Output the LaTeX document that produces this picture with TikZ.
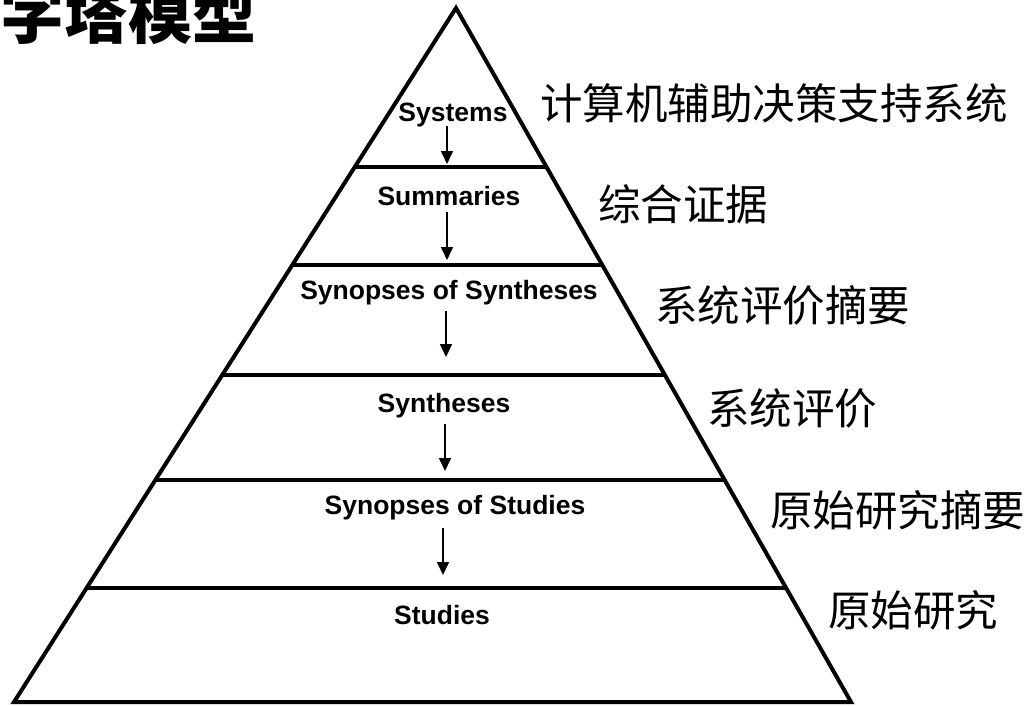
\documentclass[tikz,border=0pt]{standalone}
\usepackage{fontspec}
\setmainfont{Liberation Sans}
\newfontfamily\cjk{Noto Sans CJK SC}
\usetikzlibrary{arrows.meta,calc}
\tikzset{
  edge/.style={line width=4pt, line join=miter},
  layer/.style={line width=4pt},
  flow/.style={line width=1.6pt, -{Triangle[length=13pt,width=12pt]}},
  en/.style={font=\bfseries\fontsize{26.5}{30}\selectfont, inner sep=0pt},
  zh/.style={font=\cjk\fontsize{42.5}{48}\selectfont, anchor=west, inner sep=0pt},
}
\begin{document}
\begin{tikzpicture}[x=1pt,y=-1pt]
\useasboundingbox (0,0) rectangle (1026,705);
\fill[white] (0,0) rectangle (1026,705);
% title (cropped at top, as in the reference)
\node[font=\cjk\bfseries\fontsize{64}{70}\selectfont, anchor=base west, inner sep=0pt] (title) at (0,38) {字塔模型};
% pyramid
\coordinate (apex) at (456,8);
\coordinate (bl) at (14,702);
\coordinate (br) at (851,702);
\draw[edge] (apex) -- (bl) -- (br) -- cycle;
\foreach \t/\n in {0.2294/1,0.3709/2,0.5281/3,0.6797/4,0.8355/5}{
  \coordinate (L\n) at ($(apex)!\t!(bl)$);
  \coordinate (R\n) at ($(apex)!\t!(br)$);
  \draw[layer] (L\n) -- (R\n);
}
% English labels
\node[en] (systems) at (453,115) {Systems};
\node[en] (summaries) at (449,196) {Summaries};
\node[en] (sos) at (449,293) {Synopses of Syntheses};
\node[en] (syntheses) at (444,406) {Syntheses};
\node[en] (sost) at (455,508) {Synopses of Studies};
\node[en] (studies) at (442,615) {Studies};
% arrows
\coordinate (a1s) at (447,126); \coordinate (a1e) at (447,164);
\coordinate (a2s) at (447,212); \coordinate (a2e) at (447,260);
\coordinate (a3s) at (446,311); \coordinate (a3e) at (446,357);
\coordinate (a4s) at (445,424); \coordinate (a4e) at (445,471);
\coordinate (a5s) at (443,528); \coordinate (a5e) at (443,575);
\foreach \n in {1,...,5}{\draw[flow] (a\n s) -- (a\n e);}
% Chinese labels
\node[zh] (c1) at (540,103) {计算机辅助决策支持系统};
\node[zh] (c2) at (598,204) {综合证据};
\node[zh] (c3) at (655,305) {系统评价摘要};
\node[zh] (c4) at (707,408) {系统评价};
\node[zh] (c5) at (770,510) {原始研究摘要};
\node[zh] (c6) at (828,610) {原始研究};
\end{tikzpicture}
\end{document}
